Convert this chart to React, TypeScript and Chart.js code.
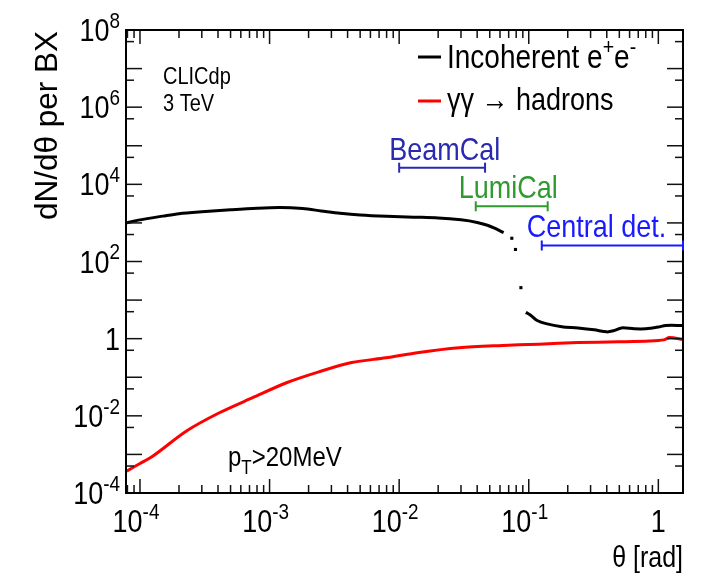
import React, { useEffect, useRef } from "react";
import { Chart, registerables } from "chart.js";

Chart.register(...registerables);

// ---- data ----
const X_MIN = 7.8e-5;
const X_MAX = 1.55;
const Y_MIN = 1e-4;
const Y_MAX = 1e8;

// Incoherent e+e- (null breaks the line around the steep drop)
const incoherentTheta = [
  7.8e-5, 1.0e-4, 1.5e-4, 2.0e-4, 3.0e-4, 5.0e-4, 8.0e-4, 1.2e-3, 1.8e-3, 2.5e-3,
  3.5e-3, 5.0e-3, 8.0e-3, 1.3e-2, 2.0e-2, 3.0e-2, 4.0e-2, 4.8e-2, 5.5e-2, 6.0e-2,
  6.4e-2, 6.9e-2, 7.4e-2, 7.65e-2, 7.9e-2, 8.3e-2, 8.7e-2, 9.1e-2, 9.5e-2, 0.104,
  0.116, 0.136, 0.18, 0.24, 0.32, 0.4, 0.45, 0.52, 0.65, 0.8, 1.0, 1.14, 1.55,
];
const incoherentValues = [
  1000, 1200, 1500, 1740, 1950, 2190, 2400, 2500, 2350, 2050,
  1780, 1600, 1480, 1410, 1350, 1200, 1030, 870, 720, 620,
  560, null, 400, null, 205, null, 21, null, 4.8, 4.0,
  2.95, 2.45, 2.05, 1.9, 1.7, 1.5, 1.6, 1.9, 1.8, 1.8, 2.0, 2.2, 2.2,
];

// gamma gamma -> hadrons
const hadronTheta = [
  7.9e-5, 1.0e-4, 1.26e-4, 2.3e-4, 4.1e-4, 7.4e-4, 1.35e-3, 2.4e-3, 4.3e-3, 7.9e-3,
  1.42e-2, 2.9e-2, 5.8e-2, 0.12, 0.24, 0.49, 0.85, 1.1, 1.22, 1.55,
];
const hadronValues = [
  3.7e-4, 5.8e-4, 9.1e-4, 4.1e-3, 1.2e-2, 2.95e-2, 7.2e-2, 0.138, 0.24, 0.32,
  0.44, 0.58, 0.66, 0.72, 0.79, 0.83, 0.87, 0.93, 1.07, 0.95,
];

const xMajorTicks = [1e-4, 1e-3, 1e-2, 1e-1, 1];
const xTickBase = ["10", "10", "10", "10", "1"];
const xTickSup = ["-4", "-3", "-2", "-1", ""];
const yLabelTicks = [1e-4, 1e-2, 1, 1e2, 1e4, 1e6, 1e8];
const yTickBase = ["10", "10", "1", "10", "10", "10", "10"];
const yTickSup = ["-4", "-2", "", "2", "4", "6", "8"];

const detectorNames = ["BeamCal", "LumiCal", "Central det."];
const detectorFrom = [0.01, 0.039, 0.126];
const detectorTo = [0.046, 0.14, 1.55];
const detectorLevel = [2.7e4, 2.7e3, 260];

const FONT = '"Liberation Sans", Arial, Helvetica, sans-serif';
const VS = 1.17; // vertical stretch of the lettering

function font(size: number) {
  return `${size}px ${FONT}`;
}

function textW(ctx: CanvasRenderingContext2D, s: string, size: number) {
  ctx.font = font(size);
  return ctx.measureText(s).width;
}

function put(ctx: CanvasRenderingContext2D, s: string, x: number, y: number, size: number) {
  ctx.save();
  ctx.font = font(size);
  ctx.textAlign = "left";
  ctx.textBaseline = "alphabetic";
  ctx.translate(x, y);
  ctx.scale(1, VS);
  ctx.fillText(s, 0, 0);
  ctx.restore();
}

function drawSupText(
  ctx: CanvasRenderingContext2D,
  base: string,
  sup: string,
  x: number,
  y: number,
  size: number,
  align: "left" | "right" | "center"
) {
  const bw = textW(ctx, base, size);
  const sw = sup ? textW(ctx, sup, size * 0.7) : 0;
  const total = bw + sw;
  let x0 = x;
  if (align === "right") x0 = x - total;
  if (align === "center") x0 = x - total / 2;
  put(ctx, base, x0, y, size);
  if (sup) put(ctx, sup, x0 + bw, y - size * 0.42 * VS, size * 0.7);
}

const rootStylePlugin = {
  id: "rootStyle",
  afterDraw(chart: any) {
    const ctx: CanvasRenderingContext2D = chart.ctx;
    const xs = chart.scales.x;
    const ys = chart.scales.y;
    const { left, right, top, bottom } = chart.chartArea;
    ctx.save();

    const line = (x1: number, y1: number, x2: number, y2: number) => {
      ctx.beginPath();
      ctx.moveTo(x1, y1);
      ctx.lineTo(x2, y2);
      ctx.stroke();
    };

    // ticks (inward, mirrored)
    ctx.strokeStyle = "#111";
    ctx.lineWidth = 1.5;
    for (let n = -5; n <= 0; n++) {
      for (let k = 1; k <= 9; k++) {
        const v = k * Math.pow(10, n);
        if (v < X_MIN || v > X_MAX) continue;
        const px = xs.getPixelForValue(v);
        const len = k === 1 ? 14 : 8;
        line(px, bottom, px, bottom - len);
        line(px, top, px, top + len);
      }
    }
    for (let n = -4; n <= 8; n++) {
      const py = ys.getPixelForValue(Math.pow(10, n));
      line(left, py, left + 16, py);
      line(right, py, right - 16, py);
      const mv = 5 * Math.pow(10, n - 1);
      if (mv > Y_MIN) {
        const pm = ys.getPixelForValue(mv);
        line(left, pm, left + 8, pm);
        line(right, pm, right - 8, pm);
      }
    }

    // frame
    ctx.strokeStyle = "#000";
    ctx.lineWidth = 2;
    ctx.strokeRect(left, top, right - left, bottom - top);

    // tick labels
    ctx.fillStyle = "#000";
    xMajorTicks.forEach((v, i) => {
      const px = xs.getPixelForValue(v);
      drawSupText(ctx, xTickBase[i], xTickSup[i], px - (xTickSup[i] ? 4 : 0), 532, 27, "center");
    });
    yLabelTicks.forEach((v, i) => {
      const py = ys.getPixelForValue(v);
      drawSupText(ctx, yTickBase[i], yTickSup[i], 120, py + 11, 27, "right");
    });

    // axis titles
    const tw = textW(ctx, "\u03b8 [rad]", 25);
    put(ctx, "\u03b8 [rad]", right - tw, 567, 25);

    ctx.save();
    ctx.translate(57, top + 1);
    ctx.rotate(-Math.PI / 2);
    ctx.font = font(31.5);
    ctx.textAlign = "right";
    ctx.textBaseline = "alphabetic";
    ctx.fillText("dN/d\u03b8 per BX", 0, 0);
    ctx.restore();

    // labels
    put(ctx, "CLICdp", 163, 84, 20);
    put(ctx, "3 TeV", 163, 111, 20);

    // legend
    ctx.lineWidth = 3;
    ctx.strokeStyle = "#000";
    line(418, 57, 441, 57);
    ctx.strokeStyle = "#ff0000";
    line(418, 101, 441, 101);
    ctx.fillStyle = "#000";
    let lx = 447;
    const ly = 68;
    const LS = 28;
    put(ctx, "Incoherent e", lx, ly, LS);
    lx += textW(ctx, "Incoherent e", LS);
    put(ctx, "+", lx, ly - 12 * VS, LS * 0.7);
    lx += textW(ctx, "+", LS * 0.7);
    put(ctx, "e", lx, ly, LS);
    lx += textW(ctx, "e", LS);
    put(ctx, "-", lx, ly - 12 * VS, LS * 0.7);
    put(ctx, "\u03b3\u03b3 \u2192 hadrons", 447, 110, 27);

    // pT label
    let px0 = 228;
    put(ctx, "p", px0, 466, 24);
    px0 += textW(ctx, "p", 24);
    put(ctx, "T", px0, 474, 17);
    px0 += textW(ctx, "T", 17);
    put(ctx, ">20MeV", px0, 466, 24);

    // detector acceptance ranges
    const detColors = ["#2a2ab0", "#2f9a2f", "#1a1aff"];
    const textShift = [10, 17, 15];
    detectorNames.forEach((name, i) => {
      const x1 = xs.getPixelForValue(detectorFrom[i]);
      const x2 = Math.min(xs.getPixelForValue(detectorTo[i]), right);
      const y = ys.getPixelForValue(detectorLevel[i]);
      ctx.strokeStyle = detColors[i];
      ctx.fillStyle = detColors[i];
      ctx.lineWidth = 2;
      line(x1, y, x2, y);
      line(x1, y - 5, x1, y + 5);
      line(x2, y - 5, x2, y + 5);
      put(ctx, name, x1 - textShift[i], y - 8, 27);
    });

    ctx.restore();
  },
};

export default function App() {
  const canvasRef = useRef<HTMLCanvasElement | null>(null);

  useEffect(() => {
    if (!canvasRef.current) return;
    const incoherentData = incoherentTheta.map((t, i) => ({ x: t, y: incoherentValues[i] }));
    const hadronData = hadronTheta.map((t, i) => ({ x: t, y: hadronValues[i] }));

    const isolatedRadius = (ctx: any) => {
      const i = ctx.dataIndex;
      const prev = incoherentValues[i - 1];
      const next = incoherentValues[i + 1];
      return prev === null && next === null ? 2.2 : 0;
    };

    const chart = new Chart(canvasRef.current, {
      type: "line",
      data: {
        datasets: [
          {
            label: "Incoherent e+e-",
            data: incoherentData as any,
            borderColor: "#000",
            backgroundColor: "#000",
            borderWidth: 3,
            pointStyle: "rect",
            pointRadius: isolatedRadius as any,
            pointBorderWidth: 0,
            spanGaps: false,
            tension: 0.3,
          },
          {
            label: "\u03b3\u03b3 \u2192 hadrons",
            data: hadronData as any,
            borderColor: "#ff0000",
            backgroundColor: "#ff0000",
            borderWidth: 3,
            pointRadius: 0,
            tension: 0.3,
          },
        ],
      },
      options: {
        animation: false,
        responsive: false,
        layout: { padding: { top: 30, right: 42, left: 0, bottom: 0 } },
        plugins: { legend: { display: false }, tooltip: { enabled: false } },
        scales: {
          x: {
            type: "logarithmic",
            min: X_MIN,
            max: X_MAX,
            grid: { display: false },
            border: { display: false },
            ticks: { display: false },
            afterFit: (scale: any) => {
              scale.height = 80;
            },
          },
          y: {
            type: "logarithmic",
            min: Y_MIN,
            max: Y_MAX,
            grid: { display: false },
            border: { display: false },
            ticks: { display: false },
            afterFit: (scale: any) => {
              scale.width = 126;
            },
          },
        },
      },
      plugins: [rootStylePlugin],
    });
    return () => chart.destroy();
  }, []);

  return (
    <div style={{ position: "absolute", left: 0, top: 0, width: 725, height: 573, background: "#fff" }}>
      <canvas ref={canvasRef} width={725} height={573} style={{ width: 725, height: 573 }} />
    </div>
  );
}
